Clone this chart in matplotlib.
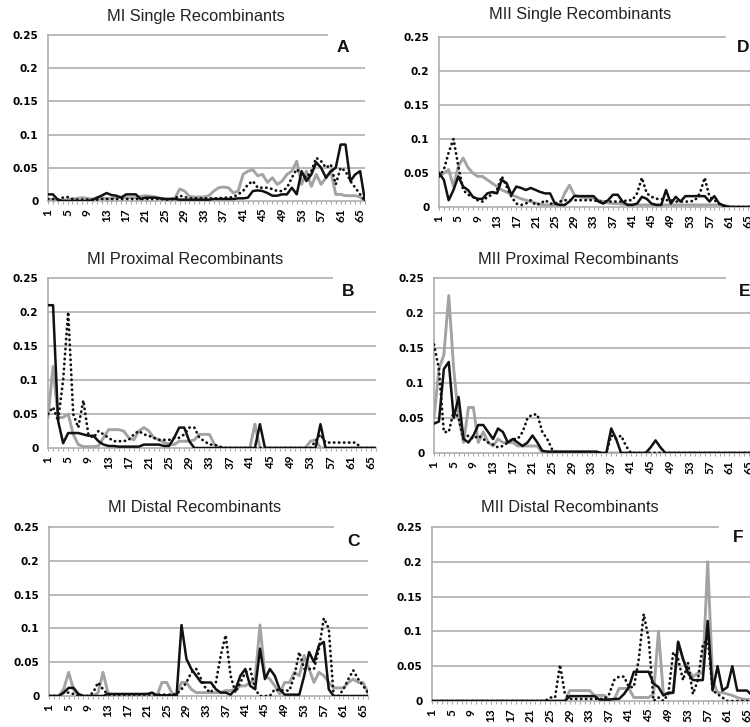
import matplotlib
matplotlib.use("Agg")
import matplotlib.pyplot as plt
import numpy as np


positions = np.arange(1, 67)
tick_positions = list(range(1, 66, 4))

# MI single (A)
a_black = [0.01, 0.01, 0.002, 0, 0, 0, 0, 0, 0, 0.001,
           0.005, 0.008, 0.012, 0.009, 0.008, 0.005, 0.01, 0.01, 0.01, 0.003,
           0.005, 0.005, 0.005, 0.004, 0.003, 0.003, 0.003, 0.002, 0.002, 0.002,
           0.002, 0.002, 0.002, 0.002, 0.003, 0.003, 0.003, 0.003, 0.003, 0.004,
           0.004, 0.005, 0.015, 0.016, 0.015, 0.012, 0.008, 0.008, 0.01, 0.01,
           0.02, 0.01, 0.045, 0.03, 0.04, 0.058, 0.05, 0.035, 0.045, 0.05,
           0.085, 0.085, 0.03, 0.04, 0.045, 0.0]
a_gray = [0.003, 0.002, 0.001, 0.001, 0.002, 0.003, 0.004, 0.005, 0.004, 0.003,
          0.004, 0.004, 0.004, 0.004, 0.005, 0.006, 0.005, 0.005, 0.005, 0.007,
          0.008, 0.007, 0.006, 0.004, 0.003, 0.003, 0.004, 0.018, 0.015, 0.007,
          0.006, 0.006, 0.006, 0.008, 0.015, 0.02, 0.021, 0.02, 0.012, 0.015,
          0.04, 0.045, 0.047, 0.038, 0.04, 0.028, 0.035, 0.025, 0.03, 0.04,
          0.045, 0.06, 0.025, 0.045, 0.022, 0.04, 0.025, 0.035, 0.045, 0.01,
          0.01, 0.008, 0.008, 0.008, 0.006, 0.0]
a_dot = [0.003, 0.003, 0.002, 0.005, 0.006, 0.003, 0.002, 0.002, 0.002, 0.002,
         0.002, 0.003, 0.003, 0.003, 0.003, 0.003, 0.003, 0.003, 0.003, 0.003,
         0.003, 0.003, 0.003, 0.003, 0.002, 0.002, 0.004, 0.008, 0.006, 0.004,
         0.004, 0.004, 0.004, 0.004, 0.004, 0.004, 0.005, 0.005, 0.006, 0.01,
         0.015, 0.025, 0.03, 0.02, 0.02, 0.02, 0.018, 0.015, 0.015, 0.02,
         0.035, 0.048, 0.04, 0.035, 0.045, 0.065, 0.06, 0.05, 0.055, 0.025,
         0.05, 0.045, 0.03, 0.02, 0.01, 0.0]

# MII single (D)
d_black = [0.05, 0.04, 0.01, 0.025, 0.045, 0.03, 0.025, 0.015, 0.012, 0.012,
           0.02, 0.022, 0.02, 0.04, 0.035, 0.018, 0.03, 0.028, 0.025, 0.028,
           0.025, 0.022, 0.02, 0.02, 0.005, 0.003, 0.003, 0.008, 0.016, 0.016,
           0.016, 0.016, 0.016, 0.008, 0.005, 0.01, 0.018, 0.018, 0.008, 0.003,
           0.003, 0.005, 0.015, 0.012, 0.005, 0.003, 0.003, 0.025, 0.005, 0.015,
           0.008, 0.016, 0.016, 0.016, 0.016, 0.016, 0.008, 0.016, 0.005, 0.002,
           0, 0, 0, 0, 0, 0]
d_gray = [0.045, 0.05, 0.055, 0.03, 0.06, 0.072, 0.058, 0.05, 0.045, 0.045,
          0.04, 0.035, 0.03, 0.025, 0.022, 0.018, 0.015, 0.012, 0.01, 0.008,
          0.006, 0.004, 0.003, 0.003, 0.003, 0.003, 0.02, 0.032, 0.018, 0.015,
          0.014, 0.013, 0.013, 0.01, 0.008, 0.006, 0.005, 0.005, 0.004, 0.004,
          0.003, 0.003, 0.003, 0.003, 0.003, 0.003, 0.003, 0.003, 0.003, 0.003,
          0.003, 0.003, 0.003, 0.003, 0.003, 0.003, 0.003, 0.003, 0.003, 0.002,
          0.001, 0, 0, 0, 0, 0]
d_dot = [0.045, 0.055, 0.08, 0.1, 0.06, 0.025, 0.018, 0.015, 0.01, 0.008,
         0.015, 0.018, 0.025, 0.045, 0.03, 0.015, 0.005, 0.003, 0.005, 0.01,
         0.003, 0.005, 0.01, 0.005, 0.005, 0.008, 0.01, 0.01, 0.01, 0.01,
         0.01, 0.01, 0.01, 0.008, 0.008, 0.008, 0.008, 0.008, 0.008, 0.01,
         0.01, 0.02, 0.043, 0.02, 0.015, 0.012, 0.012, 0.01, 0.01, 0.008,
         0.008, 0.008, 0.008, 0.01, 0.02, 0.043, 0.015, 0.01, 0.005, 0.0,
         0, 0, 0, 0, 0, 0]

# MI proximal (B)
b_black = [0.21, 0.21, 0.04, 0.007, 0.022, 0.022, 0.022, 0.02, 0.018, 0.018,
           0.01, 0.005, 0.003, 0.003, 0.002, 0.002, 0.002, 0.002, 0.002, 0.005,
           0.005, 0.005, 0.005, 0.003, 0.003, 0.015, 0.03, 0.03, 0.01, 0,
           0, 0, 0, 0, 0, 0, 0, 0, 0, 0,
           0, 0, 0.035, 0, 0, 0, 0, 0, 0, 0,
           0, 0, 0, 0, 0.035, 0, 0, 0, 0, 0,
           0, 0, 0, 0, 0, 0]
b_gray = [0.045, 0.12, 0.045, 0.045, 0.05, 0.02, 0.005, 0.002, 0.002, 0.002,
          0.003, 0.015, 0.027, 0.027, 0.027, 0.025, 0.015, 0.012, 0.025, 0.03,
          0.025, 0.015, 0.012, 0.008, 0.006, 0.005, 0.01, 0.01, 0.01, 0.012,
          0.02, 0.02, 0.02, 0.005, 0, 0, 0, 0, 0, 0,
          0, 0.035, 0, 0, 0, 0, 0, 0, 0, 0,
          0, 0, 0.01, 0.012, 0, 0, 0, 0, 0, 0,
          0, 0, 0, 0, 0, 0]
b_dot = [0.05, 0.06, 0.04, 0.1, 0.2, 0.05, 0.03, 0.07, 0.02, 0.015,
         0.025, 0.02, 0.015, 0.01, 0.01, 0.01, 0.012, 0.02, 0.025, 0.02,
         0.018, 0.015, 0.012, 0.012, 0.012, 0.015, 0.015, 0.02, 0.03, 0.03,
         0.015, 0.01, 0.005, 0.005, 0.002, 0, 0, 0, 0, 0,
         0, 0, 0, 0, 0, 0, 0, 0, 0, 0,
         0, 0, 0, 0.01, 0.02, 0.008, 0.008, 0.008, 0.008, 0.008,
         0.008, 0.008, 0, 0, 0, 0]

# MII proximal (E)
e_black = [0.042, 0.045, 0.12, 0.13, 0.05, 0.08, 0.02, 0.015, 0.025, 0.04,
           0.04, 0.03, 0.02, 0.035, 0.03, 0.015, 0.02, 0.015, 0.01, 0.015,
           0.025, 0.015, 0.003, 0.002, 0.002, 0.002, 0.002, 0.002, 0.002, 0.002,
           0.002, 0.002, 0.002, 0.002, 0, 0, 0.035, 0.02, 0, 0,
           0, 0, 0, 0, 0.008, 0.018, 0.008, 0, 0, 0,
           0, 0, 0, 0, 0, 0, 0, 0, 0, 0,
           0, 0, 0, 0, 0, 0]
e_gray = [0.05, 0.12, 0.14, 0.225, 0.12, 0.05, 0.015, 0.065, 0.065, 0.015,
          0.03, 0.015, 0.01, 0.02, 0.015, 0.015, 0.015, 0.01, 0.01, 0.01,
          0.01, 0.01, 0, 0, 0, 0, 0, 0, 0, 0,
          0, 0, 0, 0, 0, 0, 0, 0, 0, 0,
          0, 0, 0, 0, 0, 0, 0, 0, 0, 0,
          0, 0, 0, 0, 0, 0, 0, 0, 0, 0,
          0, 0, 0, 0, 0, 0]
e_dot = [0.155, 0.12, 0.03, 0.03, 0.06, 0.05, 0.02, 0.025, 0.02, 0.025,
         0.02, 0.015, 0.012, 0.008, 0.01, 0.015, 0.02, 0.02, 0.03, 0.05,
         0.055, 0.055, 0.03, 0.02, 0.005, 0, 0, 0, 0, 0,
         0, 0, 0, 0, 0, 0, 0.025, 0.02, 0.025, 0.01,
         0, 0, 0, 0, 0, 0, 0, 0, 0, 0,
         0, 0, 0, 0, 0, 0, 0, 0, 0, 0,
         0, 0, 0, 0, 0, 0]

# MI distal (C)
c_black = [0, 0, 0, 0.005, 0.012, 0.012, 0.003, 0, 0, 0,
           0, 0, 0.003, 0.003, 0.003, 0.003, 0.003, 0.003, 0.003, 0.003,
           0.003, 0.005, 0.001, 0.001, 0.001, 0.001, 0.001, 0.105, 0.055, 0.04,
           0.03, 0.02, 0.02, 0.02, 0.01, 0.005, 0.005, 0.002, 0.01, 0.03,
           0.04, 0.015, 0.01, 0.07, 0.025, 0.04, 0.03, 0.01, 0.002, 0.002,
           0.002, 0.002, 0.03, 0.065, 0.05, 0.075, 0.08, 0.01, 0, 0,
           0, 0, 0, 0, 0, 0]
c_gray = [0, 0, 0, 0.01, 0.035, 0.01, 0, 0, 0, 0,
          0.005, 0.035, 0.005, 0, 0, 0, 0, 0, 0, 0,
          0, 0, 0, 0.02, 0.02, 0.005, 0, 0.02, 0.02, 0.01,
          0.005, 0.005, 0.005, 0.005, 0.005, 0.005, 0.008, 0.008, 0.01, 0.015,
          0.015, 0.02, 0.025, 0.105, 0.03, 0.025, 0.015, 0.003, 0.02, 0.02,
          0.035, 0.03, 0.06, 0.04, 0.02, 0.035, 0.03, 0.02, 0.012, 0.012,
          0.012, 0.02, 0.025, 0.02, 0.02, 0.005]
c_dot = [0, 0, 0, 0.005, 0.005, 0.003, 0, 0, 0, 0.005,
         0.02, 0.01, 0.002, 0.002, 0.002, 0.002, 0.002, 0.002, 0.002, 0.002,
         0.002, 0.002, 0.002, 0.002, 0.002, 0.002, 0.003, 0.01, 0.02, 0.035,
         0.04, 0.025, 0.01, 0.005, 0.02, 0.06, 0.09, 0.03, 0.005, 0.02,
         0.035, 0.04, 0.01, 0, 0, 0, 0.01, 0.008, 0.008, 0.008,
         0.03, 0.065, 0.04, 0.04, 0.04, 0.07, 0.115, 0.1, 0, 0,
         0.01, 0.025, 0.038, 0.025, 0.015, 0.005]

# MII distal (F)
f_black = [0] * 28 + [
    0.007, 0.007, 0.007, 0.007, 0.007, 0.007, 0.002, 0.002, 0.002, 0.003,
    0.003, 0.01, 0.02, 0.042, 0.042, 0.042, 0.042, 0.025, 0.02, 0.008,
    0.012, 0.012, 0.085, 0.06, 0.04, 0.03, 0.03, 0.03, 0.115, 0.015,
    0.05, 0.015, 0.02, 0.05, 0.015, 0.015, 0.015, 0.008]
f_gray = [0] * 28 + [
    0.015, 0.015, 0.015, 0.015, 0.015, 0.008, 0.008, 0.008, 0.002, 0.002,
    0.018, 0.018, 0.018, 0.005, 0.005, 0.005, 0.005, 0.01, 0.1, 0.01,
    0.01, 0.012, 0.085, 0.06, 0.045, 0.035, 0.04, 0.04, 0.2, 0.03,
    0.012, 0.012, 0.01, 0.008, 0.005, 0.003, 0.002, 0.002]
f_dot = [0] * 24 + [
    0.005, 0.005, 0.052, 0.01, 0.003, 0.003, 0.003, 0.003, 0.003, 0.003,
    0.003, 0.003, 0.01, 0.03, 0.035, 0.035, 0.02, 0.02, 0.06, 0.125,
    0.09, 0.0, 0.005, 0.0, 0.01, 0.07, 0.06, 0.03, 0.055, 0.01,
    0.03, 0.08, 0.09, 0.015, 0.01, 0.005, 0, 0, 0, 0, 0, 0]

W, H = 750, 727
GRID = "#b4b4b4"

# (title, letter, black, gray, dotted, axes box px [left, top, right, bottom],
#  top line end px, title centre px, letter pos px)
panels = [
    ("MI Single Recombinants", "A", a_black, a_gray, a_dot,
     (48, 35, 365, 201), 327, (196, 17), (343, 47)),
    ("MII Single Recombinants", "D", d_black, d_gray, d_dot,
     (439, 37, 753, 207), 725, (580, 15), (743, 47)),
    ("MI Proximal Recombinants", "B", b_black, b_gray, b_dot,
     (48, 278, 376, 448), 332, (185, 260), (348, 292)),
    ("MII Proximal Recombinants", "E", e_black, e_gray, e_dot,
     (434, 278, 754, 453), 725, (578, 260), (745, 292)),
    ("MI Distal Recombinants", "C", c_black, c_gray, c_dot,
     (49, 527, 368, 696), 333, (195, 507), (353, 542)),
    ("MII Distal Recombinants", "F", f_black, f_gray, f_dot,
     (432, 527, 752, 701), 718, (570, 508), (738, 538)),
]

fig = plt.figure(figsize=(W / 100, H / 100), dpi=100)

for title, letter, black, gray, dot, box, top_end, tpos, lpos in panels:
    l, t, r, b = box
    ax = fig.add_axes([l / W, 1 - b / H, (r - l) / W, (b - t) / H])
    ax.set_xlim(1, 66)
    ax.set_ylim(0, 0.25)
    for v in [0.05, 0.1, 0.15, 0.2]:
        ax.axhline(v, color=GRID, lw=1.3, zorder=0)
    ax.axhline(0.25, xmax=(top_end - l) / (r - l), color=GRID, lw=1.3,
               zorder=0, clip_on=False)

    ax.plot(positions, gray, color="#a3a3a3", lw=2.1, zorder=2)
    ax.plot(positions, black, color="#111111", lw=1.8, zorder=3)
    ax.plot(positions, dot, color="#111111", lw=2.0, linestyle=(0, (0.1, 1.7)),
            dash_capstyle="round", zorder=4)

    for side in ["top", "right"]:
        ax.spines[side].set_visible(False)
    for side in ["left", "bottom"]:
        ax.spines[side].set_color("#a8a8a8")
        ax.spines[side].set_linewidth(1.1)

    ax.set_yticks([0, 0.05, 0.1, 0.15, 0.2, 0.25])
    ax.set_yticklabels(["0", "0.05", "0.1", "0.15", "0.2", "0.25"],
                       fontfamily="DejaVu Sans", fontweight="bold", fontsize=7.5)
    ax.tick_params(axis="y", length=0, pad=7)

    ax.set_xticks(tick_positions)
    ax.set_xticklabels([str(p) for p in tick_positions], rotation=90,
                       fontfamily="Lato", fontweight="bold", fontsize=8.5)
    ax.set_xticks(positions, minor=True)
    ax.tick_params(axis="x", which="both", length=2.5, width=0.8,
                   color="#a8a8a8", pad=3)

    fig.text(tpos[0] / W, 1 - tpos[1] / H, title, ha="center", va="center",
             fontfamily="Liberation Sans", fontsize=11.8, color="#222222")
    fig.text(lpos[0] / W, 1 - lpos[1] / H, letter, ha="center", va="center",
             fontfamily="Liberation Sans", fontweight="bold", fontsize=12.5,
             color="#111111")

fig.savefig("out.png", dpi=100, facecolor="white")
